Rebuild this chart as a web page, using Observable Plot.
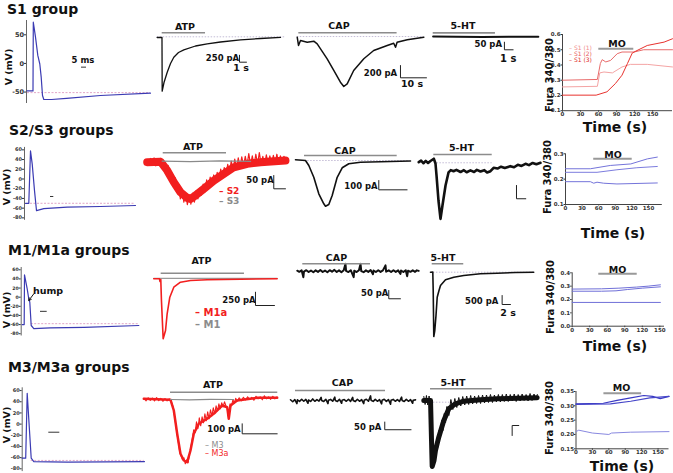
<!DOCTYPE html>
<html><head><meta charset="utf-8">
<script src="https://cdn.jsdelivr.net/npm/d3@7"></script>
<script src="https://cdn.jsdelivr.net/npm/@observablehq/plot@0.6"></script>
<style>
body{margin:0;background:#fff;}
#c{position:relative;width:673px;height:473px;overflow:hidden;background:#fff;font-family:'DejaVu Sans',sans-serif;}
#c svg{position:absolute;overflow:visible;background:transparent;}
.t{position:absolute;white-space:nowrap;line-height:1;}
</style></head><body><div id="c"></div>
<script>
// ===== DATA =====
// action potentials: [ms, mV]
const apS1 = [[0.5,-48],[6.5,-48],[6.8,72],[7.5,64],[9,46],[11.3,14],[13.3,-1],[14.7,-24],[16,-56],[17.3,-63],[25,-63],[40,-61],[74,-56],[124,-52]];
const apS2 = [[1,-50],[4.3,-50],[6,58],[7.7,31],[10,-24],[12,-65],[19.3,-61],[42.7,-58],[76,-56.6],[111,-54.5]];
const apM1 = [[1,-60],[3,-60],[3.3,49],[6,18],[7.6,-4],[8.6,-11],[10,-62],[12.6,-69],[29,-67],[63,-66],[117.6,-62]];
const apM3 = [[0,-61],[3.5,-61],[5,55],[9,-61],[11.6,-67],[45,-68],[122.3,-67]];
const apTicksS1 = [50,0,-50];
const apTicks = [60,40,20,0,-20,-40,-60,-80];
const apRest = {S1:[1,124,-51], S2:[6,111,-50], M1:[10,117.6,-58], M3:[9,122,-65]};
const apBar = {S1:[55,60,-6.5], S2:[26,29.3,-36], M1:[19.3,26,-31], M3:[26.6,37.6,-14.5]};

// currents: [s, pA]
const atpS1 = [[0.95,0],[1.64,0],[1.67,-1933],[1.93,-1620],[2.39,-1249],[2.86,-936],[3.33,-709],[4.0,-540],[4.76,-443],[6.43,-306],[8.1,-227],[10,-162],[12.86,-83],[15.7,-36],[18.57,5]];
const capS1 = [[2.58,5],[3.08,-130],[3.85,-49],[6.42,-77],[8.96,-60],[10.27,-103],[14.1,-347],[16.7,-538],[19.2,-729],[20.5,-799],[21.8,-755],[24.3,-538],[28.2,-347],[32.0,-212],[37.2,-130],[39.7,-93],[40.4,-158],[41.0,-77],[44.9,-37],[51.3,5]];
const htS1 = [[0.3,2],[3,0],[6,-2],[9,0],[12.4,1]];
const furaS1_1 = [[0,0.256],[58,0.26],[62,0.348],[69,0.354],[83,0.348],[99,0.387],[113,0.404],[141,0.404],[183,0.387]];
const furaS1_2 = [[0,0.30],[58,0.305],[63,0.41],[66,0.435],[72,0.42],[80,0.43],[91,0.474],[99,0.485],[119,0.485],[135,0.50],[183,0.50]];
const furaS1_3 = [[0,0.202],[56,0.202],[74,0.224],[88,0.278],[99,0.333],[108,0.409],[116,0.478],[122,0.491],[141,0.528],[169,0.55],[183,0.572]];

const atpS2 = [[0.63,0],[2.91,2],[4.05,-31],[5.18,-75],[6.32,-113],[7.47,-134],[8.03,-138],[8.89,-125],[10.31,-100],[12.02,-69],[13.73,-44],[15.44,-19],[17.73,-6],[20.0,0],[24.27,6]];
const atpS2raw = [[0.6,10],[0.9,-12],[1.2,14],[1.5,-9],[1.8,16],[2.1,-14],[2.4,12],[2.7,-10],[3.0,15],[3.3,-16],[3.6,2],[3.9,-36],[4.2,-12],[4.5,-52],[4.8,-40],[5.1,-92],[5.4,-58],[5.7,-112],[6.0,-86],[6.3,-138],[6.6,-104],[6.9,-150],[7.2,-118],[7.5,-160],[7.8,-122],[8.1,-158],[8.4,-116],[8.7,-150],[9.0,-108],[9.3,-138],[9.6,-98],[9.9,-124],[10.2,-82],[10.5,-112],[10.8,-66],[11.1,-98],[11.4,-56],[11.7,-86],[12.0,-48],[12.3,-80],[12.6,-38],[12.9,-66],[13.2,-26],[13.5,-58],[13.8,-20],[14.1,-46],[14.4,-8],[14.7,-38],[15.0,4],[15.3,-30],[15.6,12],[15.9,-24],[16.2,16],[16.5,-18],[16.8,20],[17.1,-14],[17.4,22],[17.7,-12],[18.0,32],[18.3,-10],[18.6,24],[18.9,-12],[19.2,30],[19.5,-8],[19.8,36],[20.1,-6],[20.4,22],[20.7,-12],[21.0,28],[21.3,-6],[21.6,24],[21.9,-8],[22.2,26],[22.5,-4],[22.8,30],[23.1,-6],[23.4,24],[23.7,-2],[24.0,22],[24.3,8]];
const atpS3 = [[3.2,4],[8,2],[13,5],[18.3,3]];
const capS2 = [[1.77,7.5],[5.3,0],[6.47,-54],[8.23,-180],[10.0,-358],[11.77,-465],[12.37,-491],[13.53,-473],[14.73,-376],[16.5,-180],[18.27,-78],[20.6,-35],[24.73,-18],[31.8,-14],[42.4,-5]];
const htS2 = [[0.35,0],[0.6,12],[0.85,-8],[1.1,10],[1.35,-6],[1.61,9],[1.97,26],[2.15,-10],[2.26,-100],[2.47,-288],[2.69,-426],[2.9,-326],[3.23,-175],[3.55,-77],[3.8,-60],[4.09,-68],[4.4,-58],[4.84,-74],[5.2,-60],[5.5,-76],[5.91,-62],[6.3,-74],[6.6,-58],[6.99,-70],[7.4,-60],[7.7,-78],[8.06,-68],[8.4,-42],[8.82,-48],[9.2,-34],[9.6,-44],[10.2,-30],[10.6,-38],[11.0,-20],[11.4,-28],[11.83,-12],[12.2,-22],[12.6,-6],[13.0,-16],[13.44,-5]];
const furaS2_a = [[0,0.241],[45,0.241],[81,0.254],[118,0.26],[148,0.28],[166,0.287]];
const furaS2_b = [[0,0.227],[57,0.227],[93,0.237],[129,0.245],[166,0.25]];
const furaS2_c = [[0,0.19],[45,0.19],[51,0.184],[57,0.188],[69,0.184],[93,0.181],[166,0.185]];

const atpM1a = [[1.08,0],[1.68,0],[1.74,-51],[1.82,-13],[1.89,-408],[2.07,-1128],[2.32,-972],[2.49,-658],[2.77,-346],[3.19,-158],[3.89,-64],[4.95,-32],[6.71,-19],[10.21,-8],[14.07,0]];
const atpM1 = [[1.08,8],[14.07,8]];
const capM1 = [[1.15,3],[1.5,-4],[1.9,5],[2.2,-36],[2.3,-2],[2.7,6],[3.1,-5],[3.5,4],[3.9,-6],[4.3,5],[4.7,-4],[5.1,7],[5.5,-5],[5.9,4],[6.3,-6],[6.7,6],[7.1,-3],[7.5,8],[7.9,-5],[8.3,5],[8.7,-6],[9.1,6],[9.4,44],[9.5,2],[9.9,-5],[10.3,6],[10.8,-36],[10.9,3],[11.3,-5],[11.7,6],[11.97,44],[12.1,0],[12.5,-6],[12.9,5],[13.3,-4],[13.7,7],[14.1,-18],[14.2,4],[14.6,-5],[15.0,6],[15.4,-4],[15.8,5],[16.24,35],[16.35,-3],[16.8,5],[17.2,-5],[17.6,6],[18.0,-4],[18.4,5],[18.8,-16],[18.9,4],[19.3,-5],[19.7,6],[19.95,-30],[20.1,3],[20.5,-4],[20.9,5],[21.3,-4],[21.6,5],[21.93,2]];
const htM1 = [[1.2,0],[1.75,11],[1.85,-1017],[1.99,-3575],[2.23,-3241],[2.52,-2407],[2.81,-1390],[3.24,-1017],[3.6,-739],[4.8,-423],[6.79,-278],[9.18,-183],[13.19,-89],[17.19,-56],[21.58,-17],[25.97,0]];
const furaM1_a = [[0,0.278],[50,0.28],[80,0.285],[110,0.293],[130,0.30],[151,0.31]];
const furaM1_b = [[0,0.262],[50,0.262],[75,0.265],[95,0.275],[120,0.285],[151,0.295]];
const furaM1_c = [[0,0.178],[151,0.178]];

const atpM3a = [[0.47,10],[4.29,0],[4.76,-107],[5.24,-340],[5.71,-540],[6.19,-607],[6.67,-624],[7.14,-507],[7.61,-340],[8.33,-240],[9.53,-190],[10.71,-124],[11.67,-57],[12.39,-74],[12.61,-190],[12.86,-57],[13.81,-7],[16.67,20],[19.53,20]];
const atpM3araw = [[0.5,15],[0.8,-10],[1.1,20],[1.4,-5],[1.7,18],[2.0,-12],[2.3,22],[2.6,-8],[2.9,15],[3.2,-15],[3.5,12],[3.8,-10],[4.1,10],[4.4,-20],[4.7,-80],[5.0,-230],[5.2,-330],[5.4,-420],[5.6,-520],[5.8,-560],[6.0,-600],[6.2,-580],[6.4,-640],[6.6,-600],[6.8,-630],[7.0,-540],[7.2,-470],[7.4,-390],[7.6,-300],[7.8,-330],[8.0,-220],[8.2,-290],[8.4,-180],[8.6,-260],[8.8,-170],[9.0,-230],[9.2,-140],[9.4,-210],[9.6,-120],[9.8,-190],[10.0,-100],[10.2,-160],[10.4,-80],[10.6,-140],[10.8,-60],[11.0,-110],[11.2,-40],[11.4,-90],[11.6,-30],[11.8,-70],[12.0,-20],[12.2,-60],[12.4,-90],[12.6,-190],[12.8,-40],[13.0,-60],[13.2,0],[13.4,-30],[13.6,15],[13.8,-15],[14.1,20],[14.4,-10],[14.7,25],[15.0,0],[15.3,30],[15.6,5],[15.9,25],[16.2,-5],[16.5,35],[16.8,10],[17.1,30],[17.4,0],[17.7,40],[18.0,10],[18.3,30],[18.6,5],[18.9,35],[19.2,10],[19.5,30]];
const atpM3 = [[4.29,3],[7,0],[10,5],[13.29,3]];
const capM3 = [[0.76,5],[1.6,-8],[2.4,6],[3.2,-20],[3.4,4],[4.2,-6],[5.0,8],[5.8,-5],[6.6,7],[7.4,-18],[7.6,3],[8.4,-6],[9.2,10],[10.0,-5],[10.8,6],[11.6,-4],[12.4,20],[12.6,0],[13.4,-6],[14.2,8],[15.0,-20],[15.2,2],[16.0,7],[16.8,-5],[17.6,22],[17.8,0],[18.6,-6],[19.4,8],[20.2,-18],[20.4,2],[21.2,6],[22.0,-5],[22.8,8],[23.6,-6],[24.4,20],[24.6,0],[25.4,-7],[26.2,8],[27.0,-5],[27.8,6],[28.6,-20],[28.8,2],[29.6,8],[30.4,-5],[31.2,30],[31.4,2],[32.2,-6],[33.0,7],[33.8,-5],[34.6,6],[35.4,-22],[35.6,2],[36.4,8],[37.2,-6],[38.0,6],[38.8,-24],[39.0,2],[39.8,7],[40.6,-5],[41.4,6],[42.2,-6],[43.0,22],[43.2,0],[44.0,-6],[44.8,7],[45.6,-5],[46.4,6],[47.2,-18],[47.4,2],[48.3,4]];
const htM3 = [[0.5,0],[1.52,0],[1.67,-400],[1.77,-660],[2.05,-600],[2.27,-500],[2.77,-367],[3.53,-200],[4.29,-83],[5.3,-33],[6.56,-7],[9.09,7],[11.62,17],[17.68,27]];
const htM3raw = [[0.5,40],[0.7,-40],[0.9,50],[1.1,-45],[1.3,45],[1.5,-40],[1.65,-300],[1.75,-680],[1.9,-560],[2.0,-650],[2.15,-470],[2.3,-560],[2.45,-380],[2.6,-470],[2.8,-300],[3.0,-380],[3.2,-200],[3.4,-300],[3.6,-130],[3.8,-220],[4.0,-60],[4.3,-150],[4.6,10],[4.9,-90],[5.2,20],[5.5,-70],[5.8,30],[6.1,-55],[6.4,40],[6.7,-45],[7.0,45],[7.3,-40],[7.6,50],[7.9,-35],[8.2,45],[8.5,-30],[8.8,50],[9.1,-30],[9.4,55],[9.7,-25],[10.0,55],[10.3,-20],[10.6,60],[10.9,-20],[11.2,55],[11.5,-15],[11.8,60],[12.1,-15],[12.4,60],[12.7,-10],[13.0,65],[13.3,-10],[13.6,60],[13.9,-5],[14.2,65],[14.5,-10],[14.8,60],[15.1,-5],[15.4,65],[15.7,0],[16.0,60],[16.3,-5],[16.6,70],[16.9,0],[17.2,65],[17.5,5],[17.7,60]];
const furaM3_a = [[0,0.307],[50,0.309],[75,0.319],[100,0.328],[124,0.336],[140,0.333],[154,0.325],[170,0.333]];
const furaM3_b = [[0,0.305],[63,0.307],[100,0.316],[135,0.328],[170,0.333]];
const furaM3_c = [[0,0.21],[5,0.215],[30,0.205],[60,0.2],[65,0.205],[100,0.208],[170,0.21]];

// drug application bars [start, end, level]
const stimATP = [[1.67,7.86,169],[3.37,14.19,35.3],[1.86,10.63,105],[4.29,19.61,76]];
const stimCAP = [[3.2,41.0,77],[4.95,37.7,53.8],[2.1,13.68,44.5],[2.66,36.88,65]];
const stimHT  = [[0.31,7.47,26],[1.97,8.25,58],[1.61,9.18,467],[1.52,10.86,117]];
const stimMO  = [[60.4,118.6,0.507],[51,120.6,0.28],[45.5,111.3,0.393],[51,120,0.344]];
// scale bars [x, y, dx(time), dy(pA)]
const sbATP = [[12.71,-889,1,250],[22.27,-100,2,50],[11.79,-502,2,250],[14.53,-340,5,100]];
const sbCAP = [[42.3,-657,10,200],[31.2,-315,10,100],[16.8,-166,2,50],[36.6,-190,10,50]];
const sbHT  = [[8.5,-85.5,1,50],[10.86,-275,1,100],[18.39,-1796,2,500],[13.89,-350,1,100]];
// dotted baselines [start,end,level]
const baseATP = [[0.95,19.3,25],null,null,null];
const baseCAP = [[2.6,51.3,16],[5,42,0],null,null];
const baseHT  = [null,[2.3,8.25,-4.5],[1.9,26,0],[1.5,6.06,-17]];
const furaTimeTicks = [0,30,60,90,120,150];

// ===== DRAW =====
const C = document.getElementById("c");
const FONT = "'DejaVu Sans', sans-serif";
function place(svg, l, t){ svg.style.left=l+"px"; svg.style.top=t+"px"; C.appendChild(svg); }
function txt(s, x, y, o={}){
  const d=document.createElement("div"); d.className="t"; d.textContent=s;
  const a=o.a||"middle"; const tx=a==="start"?"0":a==="end"?"-100%":"-50%";
  d.style.left=x+"px"; d.style.top=y+"px";
  d.style.font=`${o.w||"bold"} ${o.s||10}px ${FONT}`; d.style.color=o.c||"#111";
  d.style.transform=`translate(${tx},-50%)`+(o.r?" rotate(-90deg)":"");
  C.appendChild(d); return d;
}
const P = d=>d[0], V = d=>d[1];
const GRAY="#8c8c8c";

function trace(p){
  const marks=[];
  if(p.base) marks.push(Plot.ruleY([p.base],{x1:d=>d[0],x2:d=>d[1],y:d=>d[2],stroke:"#c4bcd6",strokeWidth:1,strokeDasharray:"1.5,1.5"}));
  for(const s of p.series) marks.push(Plot.line(s.data,{x:P,y:V,stroke:s.c,strokeWidth:s.w,strokeLinejoin:"round"}));
  if(p.stim) marks.push(Plot.ruleY([p.stim],{x1:d=>d[0],x2:d=>d[1],y:d=>d[2],stroke:GRAY,strokeWidth:1.6}));
  if(p.sb){ const [x,y,dx,dy]=p.sb;
    const pts = p.top ? [[x,y],[x,y+dy],[x+dx,y+dy]] : [[x,y+dy],[x,y],[x+dx,y]];
    marks.push(Plot.line(pts,{x:P,y:V,stroke:"#222",strokeWidth:1}));
  }
  const svg=Plot.plot({width:p.W,height:p.H,margin:0,x:{domain:p.xd,axis:null},y:{domain:p.yd,axis:null},style:{overflow:"visible",background:"transparent"},marks});
  place(svg,p.L,p.T);
}
function ap(p){
  const marks=[
    Plot.ruleX([0],{y1:p.yd[0],y2:p.yd[1],stroke:"#666",strokeWidth:1}),
    Plot.ruleY([p.rest],{x1:d=>d[0],x2:d=>d[1],y:d=>d[2],stroke:"#d98fb8",strokeWidth:0.8,strokeDasharray:"2,1.5"}),
    Plot.line(p.data,{x:P,y:V,stroke:"#3b3bb3",strokeWidth:1.2}),
    Plot.ruleY([p.bar],{x1:d=>d[0],x2:d=>d[1],y:d=>d[2],stroke:"#333",strokeWidth:1})
  ];
  if(p.arrow) marks.push(Plot.arrow([p.arrow],{x1:d=>d[0],y1:d=>d[1],x2:d=>d[2],y2:d=>d[3],stroke:"#111",strokeWidth:1,headLength:4}));
  const svg=Plot.plot({width:p.W,height:p.H,marginLeft:p.mL,marginTop:p.mT,marginBottom:p.mB,marginRight:p.mR,
    x:{domain:p.xd,axis:null},
    y:{domain:p.yd,ticks:p.ticks,tickSize:2,tickPadding:0.5,label:null,tickFormat:d=>d},
    style:{overflow:"visible",fontSize:p.fs+"px",fontWeight:"bold",fontFamily:FONT,color:"#333",background:"transparent"},marks});
  place(svg,p.L,p.T);
}
function fura(p){
  const marks=[
    Plot.ruleX([0],{y1:p.yd[0],y2:p.yd[1],stroke:"#444",strokeWidth:1}),
    Plot.ruleY([p.yd[0]],{x1:0,x2:p.xd[1],stroke:"#444",strokeWidth:1})
  ];
  for(const s of p.series) marks.push(Plot.line(s.data,{x:P,y:V,stroke:s.c,strokeWidth:s.w||1}));
  marks.push(Plot.ruleY([p.mo],{x1:d=>d[0],x2:d=>d[1],y:d=>d[2],stroke:"#999",strokeWidth:2}));
  const svg=Plot.plot({width:p.W,height:p.H,marginLeft:p.mL,marginTop:p.mT,marginBottom:p.mB,marginRight:p.mR,
    x:{domain:p.xd,ticks:furaTimeTicks,tickSize:1.5,tickPadding:0,label:null,tickFormat:d=>d},
    y:{domain:p.yd,ticks:p.ticks,tickSize:1.5,tickPadding:0.5,label:null,tickFormat:d3.format(p.fmt)},
    style:{overflow:"visible",fontSize:"5.5px",fontWeight:"bold",fontFamily:FONT,color:"#333",background:"transparent"},marks});
  place(svg,p.L,p.T);
}

// ---- action potentials
ap({L:0,T:15,W:155,H:95,mL:26,mT:5,mB:7,mR:3,xd:[0,126],yd:[-70,75],ticks:apTicksS1,fs:6.5,data:apS1,rest:apRest.S1,bar:apBar.S1});
ap({L:0,T:140,W:145,H:85,mL:24,mT:6.9,mB:5.2,mR:6,xd:[0,115],yd:[-85,65],ticks:apTicks,fs:5,data:apS2,rest:apRest.S2,bar:apBar.S2});
ap({L:0,T:262,W:145,H:80,mL:20.7,mT:5,mB:6.5,mR:4.3,xd:[0,120],yd:[-85,65],ticks:apTicks,fs:4.6,data:apM1,rest:apRest.M1,bar:apBar.M1,arrow:[12.6,7.4,7.6,-7.2]});
ap({L:0,T:380,W:150,H:93,mL:21.7,mT:7.3,mB:1.9,mR:3.3,xd:[0,125],yd:[-85,65],ticks:apTicks,fs:5,data:apM3,rest:apRest.M3,bar:apBar.M3});

// ---- ATP
const RED="#f21f1f";
trace({L:150,T:15,W:140,H:85,xd:[0,20],yd:[-2268,792],series:[{data:atpS1,c:"#111",w:1.3}],stim:stimATP[0],sb:sbATP[0],base:baseATP[0]});
trace({L:143,T:140,W:147,H:80,xd:[0,25.13],yd:[-219.2,81.6],series:[{data:atpS2,c:RED,w:8},{data:atpS2raw,c:RED,w:1.2},{data:atpS3,c:"#8a8a8a",w:1.3}],stim:stimATP[1],sb:sbATP[1]});
trace({L:143,T:255,W:140,H:90,xd:[0,14.74],yd:[-1254,438],series:[{data:atpM1,c:"#9a9a9a",w:1.3},{data:atpM1a,c:RED,w:1.6}],stim:stimATP[2],sb:sbATP[2]});
trace({L:140,T:380,W:143,H:90,xd:[0,20.43],yd:[-707,193],series:[{data:atpM3a,c:RED,w:2.5},{data:atpM3araw,c:RED,w:1.1},{data:atpM3,c:"#8a8a8a",w:1.2}],stim:stimATP[3],sb:sbATP[3]});
// ---- CAP
trace({L:290,T:15,W:140,H:85,xd:[0,53.85],yd:[-1027,359],series:[{data:capS1,c:"#111",w:1.5}],stim:stimCAP[0],sb:sbCAP[0],base:baseCAP[0]});
trace({L:290,T:140,W:125,H:75,xd:[0,44.17],yd:[-591,215],series:[{data:capS2,c:"#111",w:1.6}],stim:stimCAP[1],sb:sbCAP[1],base:baseCAP[1]});
trace({L:290,T:255,W:135,H:50,xd:[0,23.08],yd:[-206.5,94.5],series:[{data:capM1,c:"#111",w:2}],stim:stimCAP[2],sb:sbCAP[2]});
trace({L:288,T:380,W:130,H:55,xd:[0,49.43],yd:[-227.5,130],series:[{data:capM3,c:"#111",w:1.6}],stim:stimCAP[3],sb:sbCAP[3]});
// ---- 5-HT
trace({L:430,T:15,W:120,H:85,xd:[0,13.8],yd:[-419,140],series:[{data:htS1,c:"#111",w:2}],stim:stimHT[0],sb:sbHT[0]});
trace({L:415,T:140,W:130,H:85,xd:[0,13.98],yd:[-476,163],series:[{data:htS2,c:"#111",w:2.6}],stim:stimHT[1],sb:sbHT[1],base:baseHT[1]});
trace({L:425,T:255,W:120,H:90,xd:[0,28.8],yd:[-4075,928],series:[{data:htM1,c:"#111",w:1.6}],stim:stimHT[2],sb:sbHT[2],base:baseHT[2]});
trace({L:420,T:380,W:125,H:92,xd:[0,18.94],yd:[-720,200],series:[{data:htM3,c:"#111",w:5},{data:htM3raw,c:"#111",w:1}],stim:stimHT[3],sb:sbHT[3],base:baseHT[3],top:true});

// ---- Fura
fura({L:540,T:25,W:133,H:100,mL:22,mT:9,mB:14.8,mR:1,xd:[0,183],yd:[0.1,0.6],ticks:[0.1,0.2,0.3,0.4,0.5,0.6],fmt:".1f",mo:stimMO[0],
  series:[{data:furaS1_1,c:"#f4a4a4"},{data:furaS1_2,c:"#e86a6a"},{data:furaS1_3,c:"#e8322e"}]});
fura({L:540,T:145,W:133,H:75,mL:25,mT:8.3,mB:16,mR:11.2,xd:[0,175],yd:[0.1,0.3],ticks:[0.1,0.2,0.3],fmt:".1f",mo:stimMO[1],
  series:[{data:furaS2_a,c:"#7474da"},{data:furaS2_b,c:"#7c7cde"},{data:furaS2_c,c:"#7474da"}]});
fura({L:545,T:262,W:128,H:75,mL:26.7,mT:10.3,mB:11.3,mR:9,xd:[0,158],yd:[0,0.4],ticks:[0,0.1,0.2,0.3,0.4],fmt:".1f",mo:stimMO[2],
  series:[{data:furaM1_a,c:"#7070d8"},{data:furaM1_b,c:"#7070d8"},{data:furaM1_c,c:"#7070d8"}]});
fura({L:545,T:380,W:128,H:72,mL:30.5,mT:11,mB:3.7,mR:4.5,xd:[0,170],yd:[0.15,0.35],ticks:[0.15,0.2,0.25,0.3,0.35],fmt:".2f",mo:stimMO[3],
  series:[{data:furaM3_a,c:"#3a3ac4",w:1.2},{data:furaM3_b,c:"#4545c8",w:1.2},{data:furaM3_c,c:"#8888e0"}]});

// ===== TEXT =====
txt("S1 group",7,9,{s:14,a:"start"});
txt("S2/S3 groups",9,130,{s:14,a:"start"});
txt("M1/M1a groups",8,250,{s:14,a:"start"});
txt("M3/M3a groups",8,367,{s:14,a:"start"});
[[8,67],[6,187],[5.5,310],[6,425]].forEach(([x,y])=>txt("V (mV)",x,y,{s:9.5,r:true}));
[[549,75],[547,177],[550,297],[549,418]].forEach(([x,y])=>txt("Fura 340/380",x,y,{s:10,r:true}));
[[615,127],[613,233],[615,346],[622,466]].forEach(([x,y])=>txt("Time (s)",x,y,{s:14}));
// drug labels
[[185,25.5],[193,146],[201.5,259.5],[213,383.5]].forEach(([x,y])=>txt("ATP",x,y,{s:9.5}));
[[339,25],[345,149.5],[336.5,257],[342.5,382]].forEach(([x,y])=>txt("CAP",x,y,{s:9.5}));
[[463,25],[461.5,147],[443,256.5],[453,382]].forEach(([x,y])=>txt("5-HT",x,y,{s:9.5}));
[[617,42.5],[613,153.5],[617.5,268.5],[621.5,386.5]].forEach(([x,y])=>txt("MO",x,y,{s:9.5}));
// scale labels
txt("5 ms",83,60,{s:8.5});
txt("250 pA",222.5,58,{s:8.5}); txt("1 s",241,67,{s:9.5});
txt("200 pA",380.5,72.7,{s:8.5}); txt("10 s",412,83.3,{s:9.5});
txt("50 pA",488.3,44.3,{s:8.5}); txt("1 s",508.3,57.7,{s:10});
txt("50 pA",260,180,{s:8.5}); txt("100 pA",361,186,{s:8.5});
txt("250 pA",239,300,{s:8.5}); txt("50 pA",374.7,293.3,{s:8.5});
txt("500 pA",481.7,300.7,{s:8.5}); txt("2 s",508,311.7,{s:9.5});
txt("100 pA",224,429.3,{s:8.5}); txt("50 pA",367.7,426.7,{s:8.5});
txt("hump",48,290,{s:9.5});
// legends
txt("– S2",219,191.2,{s:9,a:"start",c:"#f21f1f"});
txt("– S3",219,200.8,{s:9,a:"start",c:"#8c8c8c"});
txt("– M1a",195,311.7,{s:10,a:"start",c:"#f21f1f"});
txt("– M1",195,324.3,{s:10,a:"start",c:"#8c8c8c"});
txt("– M3",205,445,{s:8,w:"normal",a:"start",c:"#8c8c8c"});
txt("– M3a",205,453.3,{s:8,w:"normal",a:"start",c:"#f21f1f"});
txt("– S1 (1)",569,47,{s:6,w:"normal",a:"start",c:"#f08a8a"});
txt("– S1 (2)",569,53,{s:6,w:"normal",a:"start",c:"#e85a5a"});
txt("– S1 (3)",569,59,{s:6,w:"normal",a:"start",c:"#e02a2a"});
</script></body></html>
